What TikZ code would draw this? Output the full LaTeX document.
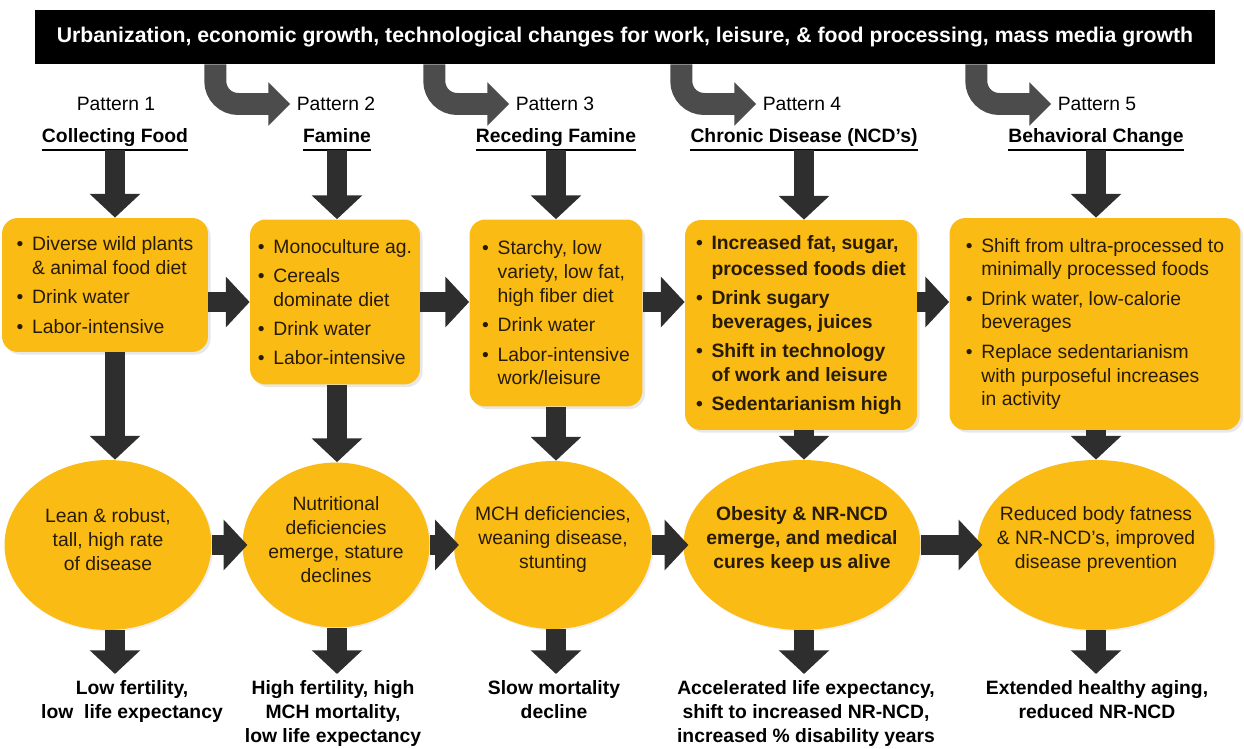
\documentclass[tikz,border=0pt]{standalone}
\usepackage{fontspec}
\setmainfont{Liberation Sans}
\usepackage{tikz}
\usetikzlibrary{shapes.geometric, arrows.meta, positioning, shadows, calc}

\definecolor{amber}{RGB}{249,187,20}
\definecolor{ink}{RGB}{40,27,4}
\newcommand{\bl}{\makebox[0.8em][l]{\textbullet}}
\newcommand{\ind}{\hspace*{0.8em}}

\begin{document}
\begin{tikzpicture}[
  x=0.02cm, y=-0.02cm,
  font=\fontsize{11}{13.6}\selectfont,
  box/.style={rectangle, rounded corners=9pt, fill=amber, text=ink, align=left,
    drop shadow={opacity=0.18, shadow xshift=1.5pt, shadow yshift=-1.5pt}},
  blob/.style={ellipse, fill=amber, inner sep=0pt,
    drop shadow={opacity=0.12, shadow xshift=1pt, shadow yshift=-1pt}},
  blobtext/.style={align=center, text=ink},
  pattern/.style={inner sep=3.5pt},
  title/.style={font=\fontsize{11}{13.6}\selectfont\bfseries, inner xsep=0pt, inner ysep=1.6pt,
    text height=0.75em, text depth=0.25em},
  outcome/.style={font=\fontsize{11}{13.6}\selectfont\bfseries, align=center, anchor=north},
  flow/.style={line width=11pt, draw=black!82, -{Triangle[width=28pt,length=13.5pt]}},
  curl/.style={line width=12.5pt, draw=black!70, rounded corners=13pt, -{Triangle[width=24pt,length=12.5pt]}}
]
  \useasboundingbox (0,0) rectangle (1244,749);

  % driver banner
  \node[fill=black, text=white, font=\fontsize{12.1}{14}\selectfont\bfseries,
    minimum width=23.6cm, minimum height=1.08cm] (banner) at (625,37)
    {Urbanization, economic growth, technological changes for work, leisure, \& food processing, mass media growth};

  % pattern labels
  \node[pattern] (p1) at (116,104) {Pattern 1};
  \node[pattern] (p2) at (336,104) {Pattern 2};
  \node[pattern] (p3) at (555,104) {Pattern 3};
  \node[pattern] (p4) at (802,104) {Pattern 4};
  \node[pattern] (p5) at (1097,104) {Pattern 5};

  \node[title] (t1) at (115,138) {Collecting Food};
  \node[title] (t2) at (337,138) {Famine};
  \node[title] (t3) at (556,138) {Receding Famine};
  \node[title] (t4) at (804,138) {Chronic Disease (NCD's)};
  \node[title] (t5) at (1096,138) {Behavioral Change};
  \foreach \t in {t1,t2,t3,t4,t5}
    \draw[line width=1.3pt] (\t.south west) -- (\t.south east);

  % diet boxes
  \node[box, minimum width=4.12cm, minimum height=2.68cm] (b1) at (105,285)
    {\bl Diverse wild plants\\\ind\& animal food diet\\[3pt]\bl Drink water\\[3pt]\bl Labor-intensive};
  \node[box, minimum width=3.4cm, minimum height=3.3cm] (b2) at (335,302)
    {\bl Monoculture ag.\\[3pt]\bl Cereals\\\ind dominate diet\\[3pt]\bl Drink water\\[3pt]\bl Labor-intensive};
  \node[box, minimum width=3.46cm, minimum height=3.74cm] (b3) at (556,313)
    {\bl Starchy, low\\\ind variety, low fat,\\\ind high fiber diet\\[3pt]\bl Drink water\\[3pt]\bl Labor-intensive\\\ind work/leisure};
  \node[box, minimum width=4.64cm, minimum height=4.2cm, font=\fontsize{11}{13.6}\selectfont\bfseries] (b4) at (801,325)
    {\bl Increased fat, sugar,\\[1.5pt]\ind processed foods diet\\[3pt]\bl Drink sugary\\\ind beverages, juices\\[3pt]\bl Shift in technology\\\ind of work and leisure\\[3pt]\bl Sedentarianism high};
  \node[box, minimum width=5.82cm, minimum height=4.24cm] (b5) at (1095,324)
    {\bl Shift from ultra-processed to\\\ind minimally processed foods\\[3pt]\bl Drink water, low-calorie\\\ind beverages\\[3pt]\bl Replace sedentarianism\\\ind with purposeful increases\\\ind in activity};

  % body outcomes
  \node[blob, minimum width=4.14cm, minimum height=3.4cm] (e1) at (108,545) {};
  \node[blob, minimum width=3.74cm, minimum height=3.3cm] (e2) at (336,545) {};
  \node[blob, minimum width=3.96cm, minimum height=3.36cm] (e3) at (553,545) {};
  \node[blob, minimum width=4.74cm, minimum height=3.4cm] (e4) at (802,545) {};
  \node[blob, minimum width=4.74cm, minimum height=3.4cm] (e5) at (1096,545) {};
  \node[blobtext] (e1t) at ([yshift=3pt]e1) {Lean \& robust,\\tall, high rate\\of disease};
  \node[blobtext] (e2t) at ([yshift=3pt]e2) {Nutritional\\deficiencies\\emerge, stature\\declines};
  \node[blobtext] (e3t) at ([yshift=3pt]e3) {MCH deficiencies,\\weaning disease,\\stunting};
  \node[blobtext, font=\fontsize{11}{13.6}\selectfont\bfseries] (e4t) at ([yshift=3pt]e4) {Obesity \& NR-NCD\\emerge, and medical\\cures keep us alive};
  \node[blobtext] (e5t) at ([yshift=3pt]e5) {Reduced body fatness\\\& NR-NCD's, improved\\disease prevention};

  % demographic results
  \node[outcome] (o1) at (132,674) {Low fertility,\\low\ \ life expectancy};
  \node[outcome] (o2) at (333,674) {High fertility, high\\MCH mortality,\\low life expectancy};
  \node[outcome] (o3) at (554,674) {Slow mortality\\decline};
  \node[outcome] (o4) at (806,674) {Accelerated life expectancy,\\shift to increased NR-NCD,\\increased \% disability years};
  \node[outcome] (o5) at (1097,674) {Extended healthy aging,\\reduced NR-NCD};

  % banner to patterns
  \foreach \p in {p2,p3,p4,p5}
    \draw[curl] ($(\p.west |- banner.south)+(-75,0)$) |- (\p.west);

  % down the columns
  \foreach \i in {1,...,5} {
    \draw[flow] (t\i.south) -- (t\i.south |- b\i.north);
    \draw[flow] (t\i |- b\i.south) -- (t\i |- e\i.north);
    \draw[flow] (t\i |- e\i.south) -- (t\i |- o\i.north);
  }

  % across the rows
  \draw[flow] (b1.east |- b2) -- (b2.west);
  \draw[flow] (b2.east) -- (b3.west |- b2);
  \draw[flow] (b3.east |- b2) -- (b4.west |- b2);
  \draw[flow] (b4.east |- b2) -- (b5.west |- b2);
  \draw[flow] (e1.east) -- ([xshift=3pt]e2.west);
  \draw[flow] (e2.east) -- ([xshift=3pt]e3.west);
  \draw[flow] (e3.east) -- ([xshift=3pt]e4.west);
  \draw[flow] (e4.east) -- ([xshift=3pt]e5.west);
\end{tikzpicture}
\end{document}
